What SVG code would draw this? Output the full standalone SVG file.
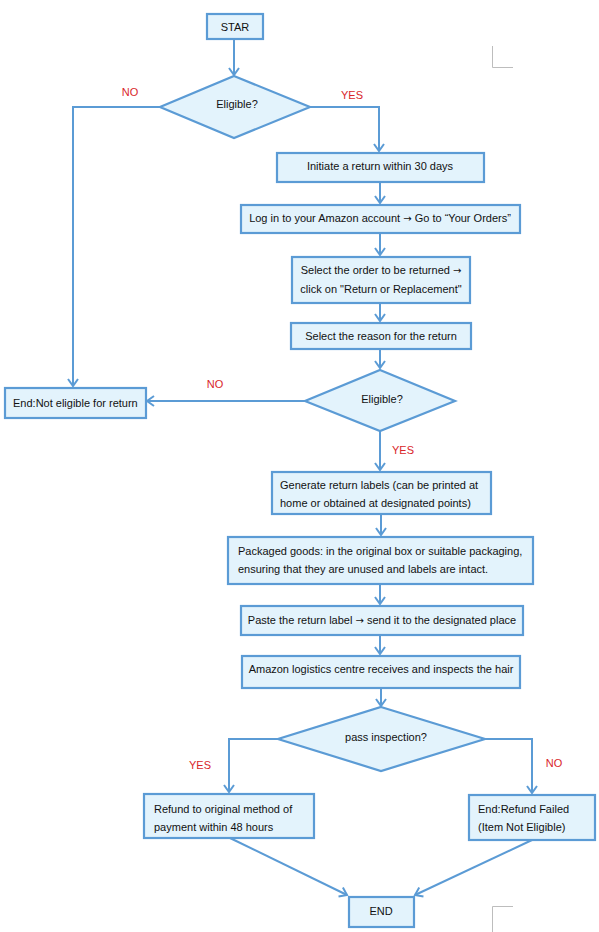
<svg xmlns="http://www.w3.org/2000/svg" width="599" height="932" viewBox="0 0 599 932">
<style>
.box{fill:#E3F3FC;stroke:#5B9BD5;stroke-width:2.2}
.t{font-family:"Liberation Sans",Arial,sans-serif;font-size:11px;fill:#111}
.c{text-anchor:middle}
.arr{font-family:"DejaVu Sans",sans-serif;font-size:10px}
.lbl{font-family:"Liberation Sans",Arial,sans-serif;font-size:11px;fill:#D9262A;text-anchor:middle}
.con{fill:none;stroke:#5B9BD5;stroke-width:2;marker-end:url(#ah)}
.mark{fill:none;stroke:#BDBDBD;stroke-width:1}
</style>
<defs>
<marker id="ah" markerUnits="userSpaceOnUse" markerWidth="14" markerHeight="14" refX="10" refY="6" orient="auto">
<path d="M3,1 L10,6 L3,11" fill="none" stroke="#5B9BD5" stroke-width="2"/>
</marker>
</defs>
<rect width="599" height="932" fill="#fff"/>
<g id="connectors">
<path class="con" d="M234,39 V75"/>
<path class="con" d="M160,107 H73 V386"/>
<path class="con" d="M310,107 H379 V151"/>
<path class="con" d="M380,182 V203"/>
<path class="con" d="M380,233 V255"/>
<path class="con" d="M380,303 V321"/>
<path class="con" d="M380,349 V368"/>
<path class="con" d="M305,401 H147"/>
<path class="con" d="M380,431 V470"/>
<path class="con" d="M381,514 V535"/>
<path class="con" d="M380,584 V604"/>
<path class="con" d="M380,635 V654"/>
<path class="con" d="M381,688 V706"/>
<path class="con" d="M278,739 H229 V792"/>
<path class="con" d="M485,739 H532 V793"/>
<path class="con" d="M230,838 L347,895"/>
<path class="con" d="M532,840 L415,895"/>
</g>
<g id="labels">
<text class="lbl" x="130" y="96">NO</text>
<text class="lbl" x="352" y="99">YES</text>
<text class="lbl" x="215" y="388">NO</text>
<text class="lbl" x="403" y="454">YES</text>
<text class="lbl" x="200" y="769">YES</text>
<text class="lbl" x="554" y="767">NO</text>
</g>
<g id="start">
<rect class="box" x="207" y="14" width="56" height="25"/>
<text class="t c" x="235" y="30.5">STAR</text>
</g>
<g id="eligible1">
<polygon class="box" points="234,76 310,107 234,138 160,107"/>
<text class="t c" x="237" y="108">Eligible?</text>
</g>
<g id="initiate">
<rect class="box" x="277" y="153" width="207" height="29"/>
<text class="t c" x="380" y="170">Initiate a return within 30 days</text>
</g>
<g id="login">
<rect class="box" x="241" y="205" width="279" height="28"/>
<text class="t c" x="380" y="222">Log in to your Amazon account <tspan class="arr">→</tspan> Go to “Your Orders”</text>
</g>
<g id="select-order">
<rect class="box" x="292" y="257" width="178" height="46"/>
<text class="t c" x="381" y="274">Select the order to be returned <tspan class="arr">→</tspan></text>
<text class="t c" x="381" y="293">click on "Return or Replacement"</text>
</g>
<g id="select-reason">
<rect class="box" x="291" y="323" width="180" height="26"/>
<text class="t c" x="381" y="340">Select the reason for the return</text>
</g>
<g id="eligible2">
<polygon class="box" points="380,370 455,401 380,431 305,401"/>
<text class="t c" x="382" y="403">Eligible?</text>
</g>
<g id="not-eligible">
<rect class="box" x="5" y="388" width="141" height="30"/>
<text class="t" x="13" y="407">End:Not eligible for return</text>
</g>
<g id="generate">
<rect class="box" x="272" y="472" width="219" height="42"/>
<text class="t" x="280" y="489">Generate return labels (can be printed at</text>
<text class="t" x="280" y="507">home or obtained at designated points)</text>
</g>
<g id="packaged">
<rect class="box" x="228" y="537" width="305" height="47"/>
<text class="t" x="238" y="555">Packaged goods: in the original box or suitable packaging,</text>
<text class="t" x="238" y="573">ensuring that they are unused and labels are intact.</text>
</g>
<g id="paste">
<rect class="box" x="241" y="606" width="282" height="29"/>
<text class="t c" x="382" y="624">Paste the return label <tspan class="arr">→</tspan> send it to the designated place</text>
</g>
<g id="amazon">
<rect class="box" x="242" y="656" width="278" height="32"/>
<text class="t c" x="381" y="673">Amazon logistics centre receives and inspects the hair</text>
</g>
<g id="pass">
<polygon class="box" points="381,707 485,739 381,771 278,739"/>
<text class="t c" x="386" y="741">pass inspection?</text>
</g>
<g id="refund">
<rect class="box" x="144" y="794" width="170" height="44"/>
<text class="t" x="154" y="813">Refund to original method of</text>
<text class="t" x="154" y="831">payment within 48 hours</text>
</g>
<g id="failed">
<rect class="box" x="469" y="795" width="126" height="45"/>
<text class="t" x="478" y="813">End:Refund Failed</text>
<text class="t" x="478" y="831">(Item Not Eligible)</text>
</g>
<g id="end">
<rect class="box" x="349" y="897" width="65" height="30"/>
<text class="t c" x="381" y="915">END</text>
</g>
<path class="mark" d="M492.5,46 V67.5 H513"/>
<path class="mark" d="M513,906.5 H492.5 V932"/>
</svg>
